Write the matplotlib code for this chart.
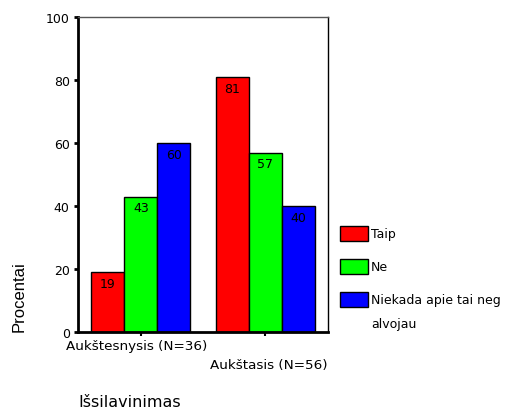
import numpy as np
import matplotlib
matplotlib.use("Agg")
import matplotlib.pyplot as plt
from matplotlib.patches import Rectangle

plt.rcParams['font.family'] = ['DejaVu Sans']

# Duomenys
grupes = ['Aukštesnysis (N=36)', 'Aukštasis (N=56)']
atsakymai = ['Taip', 'Ne', 'Niekada apie tai neg\nalvojau']
taip = [19, 81]
ne = [43, 57]
niekada = [60, 40]
spalvos = ['#ff0000', '#00ff00', '#0000ff']

reiksmes = [taip, ne, niekada]

fig = plt.figure(figsize=(5.12, 4.10), dpi=100)
ax = fig.add_axes([0.1523, 0.1878, 0.4883, 0.768])

x = np.arange(len(grupes))
plotis = 0.265
for i, (vals, sp) in enumerate(zip(reiksmes, spalvos)):
    poz = x + (i - 1) * plotis
    stulp = ax.bar(poz, vals, plotis, color=sp, edgecolor='black', linewidth=1.0)
    for s, v in zip(stulp, vals):
        ax.annotate(str(v), (s.get_x() + s.get_width() / 2, v),
                    xytext=(0, -8), textcoords='offset points',
                    ha='center', va='center', fontsize=9)

ax.set_xlim(-0.506, 1.502)
ax.set_ylim(0, 100)
ax.set_yticks([0, 20, 40, 60, 80, 100])
ax.tick_params(axis='y', direction='out', length=3, width=2, labelsize=9, pad=3)
ax.set_xticks(x)
ax.set_xticklabels([])
ax.tick_params(axis='x', direction='out', length=3, width=1.5)

# pakopiniai grupių pavadinimai
for xi, g, dxy in zip(x, grupes, [(-4, -13.5), (3, -32)]):
    ax.annotate(g, (xi, 0), xytext=dxy, textcoords='offset pixels',
                ha='center', va='center', fontsize=9.7,
                annotation_clip=False)

for k in ['left', 'bottom']:
    ax.spines[k].set_linewidth(2)
for k in ['top', 'right']:
    ax.spines[k].set_linewidth(1)
ax.spines['top'].set_color('#555555')

fig.text(19 / 512, 1 - 297 / 410, 'Procentai', rotation=90,
         ha='center', va='center', fontsize=12,
         family=['DejaVu Sans Condensed', 'Liberation Sans'])
fig.text(130 / 512, 1 - 403 / 410, 'Išsilavinimas',
         ha='center', va='center', fontsize=11.5)

# legenda
for j, (pav, sp) in enumerate(zip(atsakymai, spalvos)):
    y0 = 227 + j * 33
    fig.add_artist(Rectangle((340 / 512, 1 - (y0 + 15) / 410), 28 / 512, 15 / 410,
                             transform=fig.transFigure, facecolor=sp,
                             edgecolor='black', linewidth=1.0))
    fig.text(371 / 512, 1 - (y0 + 1) / 410, pav, ha='left', va='top',
             fontsize=9, linespacing=2.1)

fig.savefig('out.png', dpi=100)
